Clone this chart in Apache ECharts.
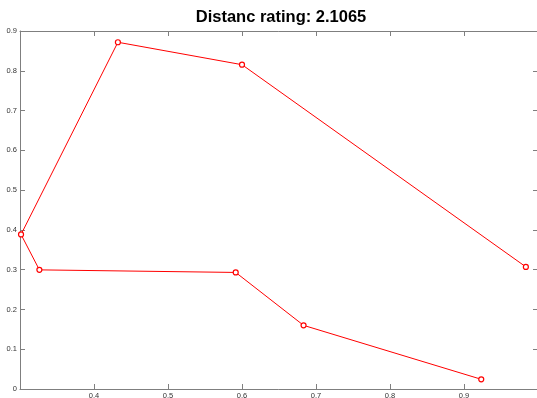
<!DOCTYPE html>
<html>
<head>
<meta charset="utf-8">
<script src="https://cdn.jsdelivr.net/npm/echarts@6/dist/echarts.min.js"></script>
<style>
html,body{margin:0;padding:0;background:#fff;}
#c{width:537px;height:398px;}
</style>
</head>
<body>
<div id="c"></div>
<script>
const titleText = "Distanc rating: 2.1065";
const xValues = [0.9836, 0.600, 0.4323, 0.3014, 0.3262, 0.5915, 0.6832, 0.9233];
const yValues = [0.307, 0.8153, 0.8717, 0.3885, 0.2995, 0.293, 0.160, 0.0244];
const xTickLabels = ["0.4", "0.5", "0.6", "0.7", "0.8", "0.9"];
const yTickLabels = ["0", "0.1", "0.2", "0.3", "0.4", "0.5", "0.6", "0.7", "0.8", "0.9"];

const points = xValues.map((x, i) => [x, yValues[i]]);
const font = "'Liberation Sans', Arial, sans-serif";
const axisColor = "#7f7f7f";

function fmt(v) {
  return (Math.round(v * 10) / 10).toString();
}

const chart = echarts.init(document.getElementById('c'), null, {renderer: 'canvas'});
const baseAxis = {
  type: 'value',
  interval: 0.1,
  axisLine: {show: true, onZero: false, lineStyle: {color: axisColor, width: 1}},
  axisTick: {show: true, inside: true, length: 5, lineStyle: {color: axisColor}},
  splitLine: {show: false},
};
chart.setOption({
  animation: false,
  backgroundColor: '#fff',
  graphic: [{
    type: 'text',
    x: 281, y: 17,
    style: {text: titleText, font: "bold 16.5px 'Liberation Sans', Arial, sans-serif", fill: '#000',
            align: 'center', verticalAlign: 'middle'}
  }],
  grid: {left: 20, top: 31, width: 518, height: 358, containLabel: false, outerBoundsMode: 'none'},
  xAxis: [
    Object.assign({}, baseAxis, {
      min: 0.3, max: 1.0, position: 'bottom',
      axisLabel: {
        fontSize: 7.5, color: '#333', fontFamily: font, margin: 3, lineHeight: 8,
        formatter: v => { const s = fmt(v); return xTickLabels.includes(s) ? s : ''; }
      }
    }),
    Object.assign({}, baseAxis, {
      min: 0.3, max: 1.0, position: 'top', axisLabel: {show: false}
    })
  ],
  yAxis: [
    Object.assign({}, baseAxis, {
      min: 0, max: 0.9, position: 'left',
      axisLabel: {
        fontSize: 7.5, color: '#333', fontFamily: font, margin: 3,
        formatter: v => { const s = fmt(v); return yTickLabels.includes(s) ? s : ''; }
      }
    }),
    Object.assign({}, baseAxis, {
      min: 0, max: 0.9, position: 'right', axisLabel: {show: false}
    })
  ],
  series: [{
    type: 'line',
    data: points,
    symbol: 'circle',
    symbolSize: 5,
    showSymbol: true,
    clip: false,
    lineStyle: {color: '#ff0000', width: 1},
    itemStyle: {color: '#ffffff', borderColor: '#ff0000', borderWidth: 1.2},
    emphasis: {disabled: true}
  }]
});
</script>
</body>
</html>
